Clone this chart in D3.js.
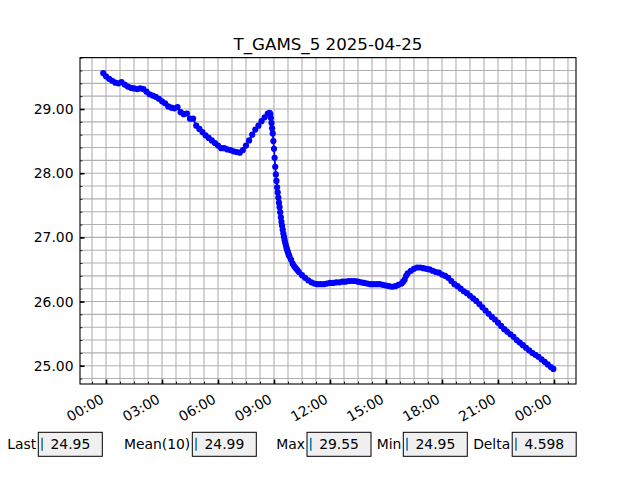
<!DOCTYPE html>
<html><head><meta charset="utf-8">
<script src="https://cdn.jsdelivr.net/npm/d3@7"></script>
<style>
body{margin:0;background:#fff}
svg{display:block;font-family:"DejaVu Sans",sans-serif}
</style>
</head><body>
<svg id="c" width="640" height="480"></svg>
<script>
// ---------------- data ----------------
const chartTitle = "T_GAMS_5 2025-04-25";
const dayStart = [2025, 3, 25]; // 2025-04-25 00:00 local
// minutes relative to 2025-04-25 00:00
const minutes = [
 -9,0,10,20,30,40,50,60,70,80,90,100,110,120,130,140,150,160,170,180,
 190,200,210,220,230,240,250,260,270,280,290,300,310,320,330,340,350,360,370,380,
 390,400,410,420,430,440,450,460,470,480,490,500,510,520,526,528,530,532,534,536,
 538,540,542,544,546,548,550,552,554,556,558,560,562,564,566,568,570,572,574,576,
 578,580,582,584,586,588,590,595,600,605,610,615,620,630,640,650,660,670,680,690,
 700,710,720,730,740,750,760,770,780,790,800,810,820,830,840,850,860,870,880,890,
 900,910,920,930,940,950,955,960,965,970,980,990,1000,1010,1020,1030,1040,1050,1060,1070,
 1080,1090,1100,1110,1120,1130,1140,1150,1160,1170,1180,1190,1200,1210,1220,1230,1240,1250,1260,1270,
 1280,1290,1300,1310,1320,1330,1340,1350,1360,1370,1380,1390,1400,1410,1420,1430,1438
];
const temps = [
 29.56,29.51,29.47,29.44,29.41,29.40,29.42,29.38,29.35,29.33,29.32,29.31,29.32,29.31,29.27,29.23,29.21,29.19,29.16,29.12,
 29.09,29.04,29.02,29.01,29.03,28.95,28.92,28.93,28.85,28.85,28.74,28.69,28.64,28.59,28.55,28.51,28.47,28.43,28.39,28.39,
 28.37,28.36,28.34,28.33,28.32,28.36,28.43,28.51,28.60,28.68,28.74,28.81,28.87,28.93,28.94,28.92,28.86,28.78,28.70,28.62,
 28.50,28.38,28.24,28.10,27.98,27.88,27.78,27.70,27.62,27.54,27.47,27.39,27.31,27.24,27.18,27.12,27.06,27.01,26.96,26.92,
 26.88,26.84,26.81,26.78,26.75,26.72,26.70,26.65,26.59,26.55,26.52,26.49,26.46,26.41,26.37,26.33,26.30,26.28,26.27,26.27,
 26.27,26.28,26.29,26.29,26.30,26.30,26.31,26.31,26.32,26.32,26.32,26.31,26.30,26.29,26.28,26.27,26.27,26.27,26.27,26.26,
 26.25,26.24,26.23,26.24,26.26,26.28,26.31,26.34,26.40,26.44,26.48,26.51,26.53,26.53,26.52,26.51,26.50,26.48,26.46,26.45,
 26.42,26.40,26.37,26.32,26.27,26.24,26.20,26.16,26.13,26.09,26.05,26.01,25.96,25.91,25.86,25.81,25.76,25.72,25.67,25.62,
 25.57,25.53,25.49,25.45,25.40,25.36,25.32,25.28,25.24,25.20,25.17,25.14,25.10,25.06,25.02,24.98,24.95
];
const xTickHours = [0,3,6,9,12,15,18,21,24];
const yTickValues = [25,26,27,28,29];
const statLabels = ["Last","Mean(10)","Max","Min","Delta"];
const statValues = ["24.95","24.99","29.55","24.95","4.598"];

// ---------------- layout ----------------
const W = 640, H = 480;
const pL = 80, pR = 576, pT = 57.6, pB = 384;
const statBoxX = [38.3, 192.3, 307, 403.3, 512.2];
const boxW = 64, boxY = 432.3, boxH = 24;
const FS = 13.9;

const base = new Date(dayStart[0], dayStart[1], dayStart[2]);
const atHours = h => new Date(base.getTime() + h * 3600000);
const data = minutes.map((m, i) => ({t: new Date(base.getTime() + m * 60000), v: temps[i]}));

const x = d3.scaleTime().domain([atHours(-1.393), atHours(25.18)]).range([pL, pR]);
const y = d3.scaleLinear().domain([24.715, 29.801]).range([pB, pT]);

const svg = d3.select("#c");
svg.append("rect").attr("width", W).attr("height", H).attr("fill", "#fff");

// grid
const gx = d3.range(-0.75, 25.0, 0.75).map(atHours);
const gy = d3.range(24.8, 29.81, 0.2);
const grid = svg.append("g").attr("stroke", "#b0b0b0").attr("stroke-width", 1.1);
grid.selectAll(".vx").data(gx).join("line")
  .attr("x1", d => x(d)).attr("x2", d => x(d)).attr("y1", pT).attr("y2", pB);
grid.selectAll(".hy").data(gy).join("line")
  .attr("y1", d => y(d)).attr("y2", d => y(d)).attr("x1", pL).attr("x2", pR);

// data line + markers
svg.append("clipPath").attr("id", "clp").append("rect")
  .attr("x", pL).attr("y", pT).attr("width", pR - pL).attr("height", pB - pT);
const plotG = svg.append("g").attr("clip-path", "url(#clp)");
plotG.append("path").datum(data)
  .attr("d", d3.line().x(d => x(d.t)).y(d => y(d.v)))
  .attr("fill", "none").attr("stroke", "#0000ff").attr("stroke-width", 1.8)
  .attr("stroke-linejoin", "round");
plotG.selectAll("circle").data(data).join("circle")
  .attr("cx", d => x(d.t)).attr("cy", d => y(d.v)).attr("r", 3.1).attr("fill", "#0000ff");

// minor ticks
const xMinor = svg.append("g").attr("transform", `translate(0,${pB})`)
  .call(d3.axisBottom(x).tickValues(gx).tickSize(-2.5).tickFormat(""));
xMinor.select(".domain").remove();
const yMinor = svg.append("g").attr("transform", `translate(${pL},0)`)
  .call(d3.axisLeft(y).tickValues(gy).tickSize(-2.5).tickFormat(""));
yMinor.select(".domain").remove();
svg.selectAll(".tick line").attr("stroke", "#000").attr("stroke-width", 0.8);

// major axes
const xAxis = svg.append("g").attr("transform", `translate(0,${pB})`)
  .call(d3.axisBottom(x).tickValues(xTickHours.map(atHours)).tickSize(-4.5)
    .tickFormat(d3.timeFormat("%H:%M")));
xAxis.select(".domain").remove();
xAxis.selectAll(".tick line").attr("stroke", "#000").attr("stroke-width", 1.6);
xAxis.selectAll(".tick text")
  .attr("font-size", FS).attr("font-family", "DejaVu Sans").attr("fill", "#000")
  .attr("text-anchor", "end").attr("dy", null).attr("y", null)
  .attr("transform", "translate(-1.5,18) rotate(-30)");

const yAxis = svg.append("g").attr("transform", `translate(${pL},0)`)
  .call(d3.axisLeft(y).tickValues(yTickValues).tickSize(-4.5).tickFormat(d3.format(".2f")));
yAxis.select(".domain").remove();
yAxis.selectAll(".tick line").attr("stroke", "#000").attr("stroke-width", 1.6);
yAxis.selectAll(".tick text")
  .attr("font-size", FS).attr("font-family", "DejaVu Sans").attr("fill", "#000")
  .attr("x", -6.5).attr("dy", "0.33em");

// spines
svg.append("rect").attr("x", pL).attr("y", pT).attr("width", pR - pL).attr("height", pB - pT)
  .attr("fill", "none").attr("stroke", "#000").attr("stroke-width", 1.1);

// title
svg.append("text").attr("x", (pL + pR) / 2).attr("y", 49.5)
  .attr("text-anchor", "middle").attr("font-size", 16.67).attr("fill", "#000")
  .text(chartTitle);

// stat boxes
const sg = svg.append("g");
statLabels.forEach((lab, i) => {
  const bx = statBoxX[i];
  sg.append("text").attr("x", bx - 2).attr("y", boxY + 16.8)
    .attr("text-anchor", "end").attr("font-size", FS).attr("fill", "#000").text(lab);
  sg.append("rect").attr("x", bx).attr("y", boxY).attr("width", boxW).attr("height", boxH)
    .attr("fill", "#f0f0f0").attr("stroke", "#000").attr("stroke-width", 1);
  sg.append("line").attr("x1", bx + 3.8).attr("x2", bx + 3.8)
    .attr("y1", boxY + 5.5).attr("y2", boxY + 18.5)
    .attr("stroke", "#1f77b4").attr("stroke-width", 1.6);
  sg.append("text").attr("x", bx + 12.2).attr("y", boxY + 16.8)
    .attr("font-size", FS).attr("fill", "#000").text(statValues[i]);
});
</script>
</body></html>
